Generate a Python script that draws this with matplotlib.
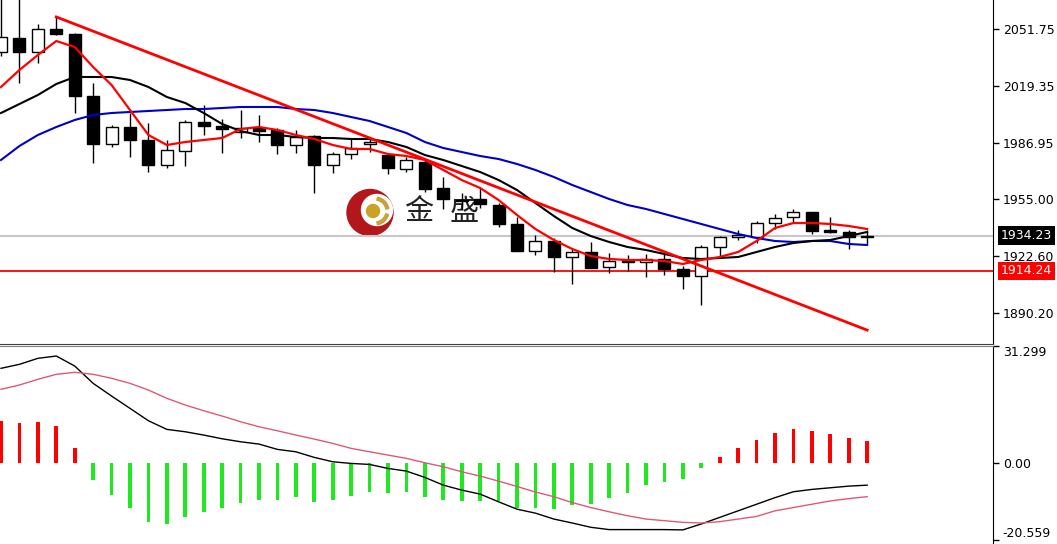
import matplotlib
matplotlib.use("Agg")
import matplotlib.pyplot as plt
import matplotlib.transforms as mtransforms
from matplotlib.patches import Circle, Wedge

# Candles (open, high, low, close)
opens = [2038.68, 2046.80, 2038.85, 2051.75, 2048.91, 2013.84, 1986.38, 1996.04, 1988.66, 1974.44,
         1982.57, 1999.06, 1996.61, 1993.37, 1995.31, 1994.34, 1985.81, 1990.93, 1974.44, 1980.70,
         1986.38, 1980.13, 1972.17, 1976.32, 1961.20, 1954.55, 1955.12, 1951.71, 1940.91, 1925.73,
         1931.24, 1922.32, 1924.82, 1916.30, 1920.44, 1919.48, 1921.01, 1915.16, 1911.35, 1927.66,
         1933.35, 1933.69, 1941.31, 1944.72, 1947.56, 1937.50, 1936.19, 1933.35]
highs = [2070.00, 2069.50, 2054.59, 2058.74, 2049.50, 2021.06, 1997.18, 2004.00, 1998.32, 1988.66,
         2000.02, 2008.55, 2000.59, 2005.71, 2002.87, 1995.48, 1994.34, 1991.50, 1982.00, 1989.05,
         1989.05, 1980.60, 1978.82, 1977.29, 1967.79, 1958.53, 1961.20, 1952.85, 1944.72, 1934.66,
         1932.78, 1926.70, 1930.85, 1924.25, 1923.29, 1923.86, 1925.73, 1917.03, 1928.97, 1934.09,
         1937.50, 1942.78, 1946.59, 1949.43, 1948.00, 1944.72, 1937.50, 1937.50]
lows = [2036.40, 2021.06, 2032.42, 2048.34, 2004.00, 1975.58, 1984.68, 1978.99, 1970.47, 1972.74,
        1973.88, 1991.50, 1981.44, 1989.79, 1987.69, 1980.70, 1981.10, 1958.36, 1970.07, 1977.68,
        1982.00, 1969.33, 1970.64, 1959.27, 1949.26, 1948.87, 1950.00, 1939.37, 1925.50, 1923.29,
        1913.45, 1906.80, 1915.90, 1913.23, 1914.36, 1910.95, 1911.92, 1903.79, 1894.87, 1922.32,
        1931.81, 1929.94, 1937.90, 1941.31, 1935.22, 1936.00, 1926.53, 1929.54]
closes = [2047.20, 2038.85, 2051.75, 2048.91, 2013.84, 1986.38, 1996.04, 1988.66, 1974.44, 1982.97,
          1999.06, 1996.61, 1994.74, 1995.65, 1993.94, 1985.81, 1990.19, 1974.44, 1980.70, 1983.94,
          1987.69, 1972.57, 1977.29, 1960.63, 1955.12, 1953.98, 1952.28, 1940.74, 1925.73, 1931.24,
          1922.32, 1925.16, 1916.07, 1919.88, 1919.48, 1921.18, 1915.16, 1911.35, 1927.66, 1933.35,
          1934.66, 1941.31, 1944.49, 1947.56, 1937.10, 1936.19, 1933.35, 1934.23]

# Moving averages
ma_red = [2018.78, 2028.44, 2036.97, 2044.92, 2041.51, 2030.15, 2019.91, 2005.70, 1991.49, 1985.81,
          1987.51, 1988.65, 1989.79, 1994.90, 1996.04, 1994.34, 1991.49, 1989.22, 1985.81, 1983.54,
          1983.54, 1980.69, 1979.56, 1977.28, 1971.60, 1965.91, 1961.37, 1954.55, 1946.02, 1938.06,
          1931.81, 1926.69, 1922.71, 1921.01, 1920.44, 1920.44, 1919.87, 1918.17, 1920.44, 1922.15,
          1924.99, 1931.24, 1938.63, 1941.47, 1941.47, 1940.90, 1939.77, 1938.06]
ma_black = [2004.00, 2009.11, 2014.23, 2020.48, 2024.46, 2024.46, 2024.46, 2022.76, 2018.78, 2013.09,
            2009.68, 2004.00, 1997.75, 1993.77, 1991.49, 1991.49, 1990.36, 1989.79, 1989.79, 1989.22,
            1989.22, 1987.51, 1984.67, 1980.12, 1977.28, 1973.87, 1970.46, 1965.91, 1960.23, 1952.84,
            1945.45, 1938.63, 1934.08, 1930.67, 1927.83, 1926.12, 1923.85, 1921.58, 1921.01, 1921.58,
            1922.15, 1924.99, 1927.83, 1930.10, 1931.24, 1931.81, 1934.08, 1936.36]
ma_blue = [1977.28, 1985.24, 1991.49, 1996.04, 2000.02, 2002.86, 2004.00, 2004.57, 2005.14, 2005.70,
           2006.27, 2006.27, 2006.84, 2007.41, 2007.41, 2007.41, 2006.27, 2005.70, 2004.00, 2001.72,
           1999.45, 1996.04, 1992.63, 1987.51, 1984.10, 1981.83, 1979.56, 1977.85, 1975.01, 1971.60,
           1967.62, 1963.07, 1959.09, 1955.11, 1951.70, 1949.43, 1946.59, 1943.75, 1940.90, 1938.06,
           1935.22, 1932.95, 1931.24, 1930.67, 1931.24, 1931.24, 1929.54, 1928.97]

# Trend line (bar index, price) and levels
trend_idx = [3, 47]
trend_val = [2058.6, 1880.6]
last_price = 1934.23
support = 1914.24

price_ticks = [2051.75, 2019.35, 1986.95, 1955.00, 1922.60, 1890.20]
price_labels = ["2051.75", "2019.35", "1986.95", "1955.00", "1922.60", "1890.20"]

# MACD
macd_hist = [11.24, 10.78, 11.05, 9.90, 3.93, -4.55, -8.56, -11.96, -15.70, -16.40,
             -14.36, -13.03, -11.96, -10.62, -9.90, -9.90, -9.18, -10.35, -9.90, -8.74,
             -7.67, -8.11, -7.67, -9.01, -9.90, -10.17, -10.17, -10.08, -12.14, -12.14,
             -12.32, -11.18, -10.82, -9.42, -7.92, -5.90, -5.10, -4.22, -1.32, 1.58,
             3.96, 6.25, 8.01, 9.24, 8.54, 7.74, 6.69, 5.90]
macd_dif = [25.33, 26.40, 28.00, 28.62, 25.95, 21.32, 17.92, 14.63, 11.32, 9.01,
            8.37, 7.49, 6.50, 5.70, 5.08, 3.66, 3.02, 1.52, 0.35, -0.09,
            -0.36, -1.43, -2.14, -3.83, -5.89, -7.22, -8.29, -10.35, -12.32, -13.38,
            -14.96, -16.02, -17.16, -17.78, -17.78, -17.78, -17.78, -17.86, -16.28, -14.52,
            -12.76, -11.00, -9.24, -7.66, -7.04, -6.60, -6.16, -5.90]
macd_dea = [19.71, 20.87, 22.39, 23.73, 24.26, 23.73, 22.66, 21.32, 19.53, 17.31,
            15.52, 13.99, 12.57, 11.05, 9.71, 8.64, 7.49, 6.42, 5.27, 3.93,
            3.02, 2.14, 1.26, 0.09, -0.98, -2.32, -3.48, -4.82, -6.25, -7.74,
            -8.98, -10.56, -11.88, -13.02, -14.08, -14.96, -15.40, -15.84, -16.02, -15.66,
            -14.96, -14.26, -12.76, -11.88, -11.00, -10.12, -9.50, -8.98]
macd_ticks = [31.299, 0.0, -20.559]
macd_labels = ["31.299", "0.00", "-20.559"]

n = len(closes)
idx = list(range(n))

fig = plt.figure(figsize=(10.57, 5.44), dpi=100)
fig.patch.set_facecolor("white")

# background layer for the logo (pixel coordinates)
bg = fig.add_axes([0, 0, 1, 1], zorder=0)
bg.set_xlim(0, 1057)
bg.set_ylim(544, 0)
bg.axis("off")
bg.add_patch(Circle((370, 212.5), 23, color="#b3161b"))
bg.add_patch(Circle((377, 210), 15.5, color="white"))
bg.add_patch(Wedge((375, 211), 14, -80, -10, width=3, color="#c9a23a"))
bg.add_patch(Wedge((375, 211), 14, 15, 80, width=3, color="#c9a23a"))
bg.add_patch(Circle((373, 211), 6.5, color="#c9a227"))
cjk = ["Noto Sans CJK SC", "DejaVu Sans"]
bg.text(419, 212, "金", fontsize=21, color="#222222", ha="center", va="center", family=cjk)
bg.text(464, 212, "盛", fontsize=21, color="#222222", ha="center", va="center", family=cjk)

# main price panel
W = 993 / 1057
ax = fig.add_axes([0, 200 / 544, W, 344 / 544], zorder=1)
ax.patch.set_alpha(0)
ax.set_xlim(-0.054, 53.83)
ax.set_ylim(1872.69, 2068.23)

ax.axhline(last_price, color="#c8c8c8", lw=1.5, zorder=1)
ax.axhline(support, color="red", lw=1.3, zorder=1)

# candles
for i in idx:
    o, h, l, c = opens[i], highs[i], lows[i], closes[i]
    ax.vlines(i, l, h, color="black", lw=1, zorder=2)
    bottom = min(o, c)
    height = max(abs(c - o), 0.5)
    face = "white" if c >= o else "black"
    ax.bar(i, height, bottom=bottom, width=0.65, color=face, edgecolor="black",
           linewidth=1, zorder=3)

ax.plot(idx, ma_blue, color="#0000c8", lw=1.5, zorder=4)
ax.plot(idx, ma_black, color="black", lw=1.5, zorder=4)
ax.plot(idx, ma_red, color="#ff0000", lw=1.6, zorder=4)
ax.plot(trend_idx, trend_val, color="#ff0000", lw=2, zorder=4)

for s in ["top", "left"]:
    ax.spines[s].set_visible(False)
ax.spines["right"].set_color("black")
ax.spines["bottom"].set_color("#404040")
ax.set_xticks([])
ax.yaxis.tick_right()
ax.set_yticks(price_ticks)
ax.set_yticklabels(price_labels)
ax.tick_params(axis="y", direction="out", length=4, width=1, labelsize=9, pad=3)

tr = mtransforms.blended_transform_factory(ax.transAxes, ax.transData)
ax.text(1.008, last_price, "1934.23", transform=tr, ha="left", va="center", fontsize=9,
        color="white", bbox=dict(facecolor="black", edgecolor="none", pad=2), clip_on=False)
ax.text(1.008, support, "1914.24", transform=tr, ha="left", va="center", fontsize=9,
        color="white", bbox=dict(facecolor="red", edgecolor="none", pad=2), clip_on=False)

# MACD panel
ax2 = fig.add_axes([0, 0, W, 198 / 544], zorder=1)
ax2.patch.set_alpha(0)
ax2.set_xlim(-0.054, 53.83)
ax2.set_ylim(-21.63, 31.299)
colors = ["#ff0000" if v >= 0 else "#1fe81f" for v in macd_hist]
ax2.bar(idx, macd_hist, width=0.2, color=colors, zorder=2)
ax2.plot(idx, macd_dif, color="black", lw=1, zorder=3)
ax2.plot(idx, macd_dea, color="#dc5a78", lw=1, zorder=3)

for s in ["left", "bottom"]:
    ax2.spines[s].set_visible(False)
ax2.spines["top"].set_color("#808080")
ax2.spines["right"].set_color("black")
ax2.set_xticks([])
ax2.yaxis.tick_right()
ax2.set_yticks(macd_ticks)
ax2.set_yticklabels(macd_labels)
ax2.tick_params(axis="y", direction="out", length=4, width=1, labelsize=9, pad=3)
ax2.get_yticklabels()[0].set_va("top")
ax2.get_yticklabels()[2].set_va("bottom")

fig.savefig("out.png", dpi=100, facecolor="white")
